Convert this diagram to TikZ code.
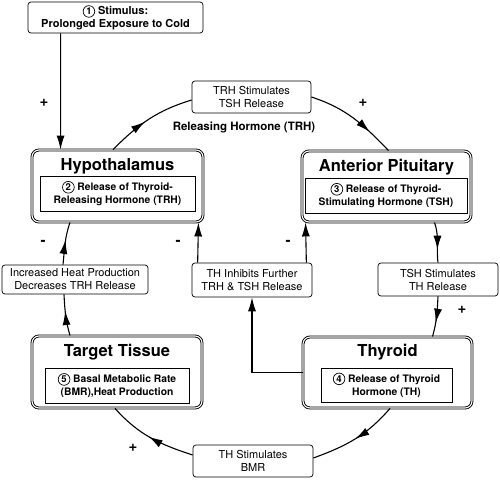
\documentclass[tikz,border=0pt]{standalone}
\usepackage{fontspec}
\setmainfont{TeX Gyre Heros}
\usetikzlibrary{arrows.meta,decorations.markings}

\newlength{\du}
\setlength{\du}{1pt}

\newcommand{\circnum}[1]{\tikz[baseline=(cn.base)]\node[shape=circle,draw,minimum width=0pt,minimum height=0pt,line width=0.7pt,inner sep=1.1pt,font=\bfseries\fontsize{9.5}{9.5}\selectfont](cn){#1};}

\tikzset{
  mainbox/.style={draw, rounded corners=7\du, line width=0.9\du, double, double distance=1.1\du, inner sep=0pt},
  innerbox/.style={draw, line width=0.7\du, align=center, inner sep=0pt, font=\bfseries\fontsize{10.3}{13}\selectfont},
  titletext/.style={anchor=base, font=\bfseries\fontsize{16.5}{18}\selectfont},
  notebox/.style={draw, rounded corners=3\du, line width=0.7\du, align=center, inner sep=0pt, font=\fontsize{11}{13}\selectfont},
  signlbl/.style={font=\bfseries\fontsize{15}{15}\selectfont},
  flow/.style={line width=1.1\du},
  endtip/.style={-{Latex[length=14pt,width=8pt]}},
  midtip/.style={postaction=decorate, decoration={markings, mark=at position #1 with {\arrow{Latex[length=14pt,width=8pt]}}}}
}

\begin{document}
\begin{tikzpicture}[x=\du,y=\du]
\useasboundingbox (0,0) rectangle (500,-479);

% stimulus
\node[draw, rounded corners=3\du, line width=0.7\du, minimum width=175\du, minimum height=31\du, inner sep=0pt, align=center, font=\bfseries\fontsize{11}{12.5}\selectfont] (stim) at (115.5,-17.5) {\circnum{1} Stimulus:\\Prolonged Exposure to Cold};

% main boxes
\node[mainbox, minimum width=171\du, minimum height=72\du] (hypo) at (117.5,-186) {};
\node[titletext] (hypoT) at (117.5,-170.5) {Hypothalamus};
\node[innerbox, minimum width=155\du, minimum height=35\du] (hypoR) at (117.5,-193.5) {\circnum{2} Release of Thyroid-\\Releasing Hormone (TRH)};

\node[mainbox, minimum width=169\du, minimum height=71\du] (ap) at (386.5,-186.5) {};
\node[titletext] (apT) at (386.5,-171) {Anterior Pituitary};
\node[innerbox, minimum width=162\du, minimum height=35\du] (apR) at (386,-195.5) {\circnum{3} Release of Thyroid-\\Stimulating Hormone (TSH)};

\node[mainbox, minimum width=169\du, minimum height=71\du] (thy) at (387.5,-372.5) {};
\node[titletext] (thyT) at (387.5,-356.5) {Thyroid};
\node[innerbox, minimum width=131\du, minimum height=34\du] (thyR) at (386.5,-385) {\circnum{4} Release of Thyroid\\Hormone (TH)};

\node[mainbox, minimum width=170\du, minimum height=72\du] (tt) at (117,-372) {};
\node[titletext] (ttT) at (117,-356) {Target Tissue};
\node[innerbox, minimum width=144\du, minimum height=35\du] (ttR) at (117,-385.5) {\circnum{5} Basal Metabolic Rate\\(BMR),Heat Production};

% notes
\node[notebox, minimum width=119\du, minimum height=32\du] (trhstim) at (251.5,-97) {TRH Stimulates\\TSH Release};
\node[notebox, minimum width=120\du, minimum height=33\du] (tshstim) at (438,-279.5) {TSH Stimulates\\TH Release};
\node[notebox, minimum width=120\du, minimum height=34\du] (thinhib) at (252,-280) {TH Inhibits Further\\TRH \& TSH Release};
\node[notebox, minimum width=146\du, minimum height=29\du] (incheat) at (75,-279.5) {Increased Heat Production\\Decreases TRH Release};
\node[notebox, minimum width=120\du, minimum height=32\du] (thbmr) at (253,-461) {TH Stimulates\\BMR};

\node[font=\bfseries\fontsize{11.5}{13}\selectfont] (relhorm) at (244,-127) {Releasing Hormone (TRH)};

% signs
\node[signlbl] (p1) at (44,-103) {+};
\node[signlbl] (p2) at (363,-103) {+};
\node[signlbl] (p3) at (462,-310) {+};
\node[signlbl] (p4) at (133,-448) {+};
\node[signlbl] (m1) at (43,-243) {-};
\node[signlbl] (m2) at (178,-243) {-};
\node[signlbl] (m3) at (288,-243) {-};

% feedback loop
\draw[flow, endtip] ([xshift=33\du]stim.south west) -- ([xshift=29\du]hypo.north west);
\draw[flow, midtip=0.45] ([xshift=-4.5\du]hypo.north) to[out=45, in=197] ([yshift=-3\du]trhstim.west);
\draw[flow, midtip=0.72] (trhstim.east) to[out=-18, in=134] ([xshift=2\du]ap.north);
\draw[flow, midtip=0.68] ([xshift=48\du]ap.south) to[out=-71, in=97] (tshstim.north);
\draw[flow, midtip=0.65] (tshstim.south) to[out=-93, in=74] ([xshift=45\du]thy.north);
\draw[flow, midtip=0.5] ([xshift=2.5\du]thy.south) to[out=-131, in=20] ([yshift=3\du]thbmr.east);
\draw[flow, midtip=0.52] ([yshift=6\du]thbmr.west) to[out=162, in=-48] ([xshift=-2\du]tt.south);
\draw[flow, midtip=0.6] ([xshift=-47\du]tt.north) to[out=106, in=-87] ([xshift=-11\du]incheat.south);
\draw[flow, midtip=0.58] ([xshift=-12\du]incheat.north) to[out=84, in=-109] ([xshift=-47.5\du]hypo.south);

% inhibition
\draw[flow, endtip] ([xshift=6\du]thinhib.north west) -- ([xshift=-5\du]hypo.south east);
\draw[flow, endtip] ([xshift=-6\du]thinhib.north east) -- ([xshift=4\du]ap.south west);
\draw[flow, endtip] (thy.west) -| (thinhib.south);
\end{tikzpicture}
\end{document}
